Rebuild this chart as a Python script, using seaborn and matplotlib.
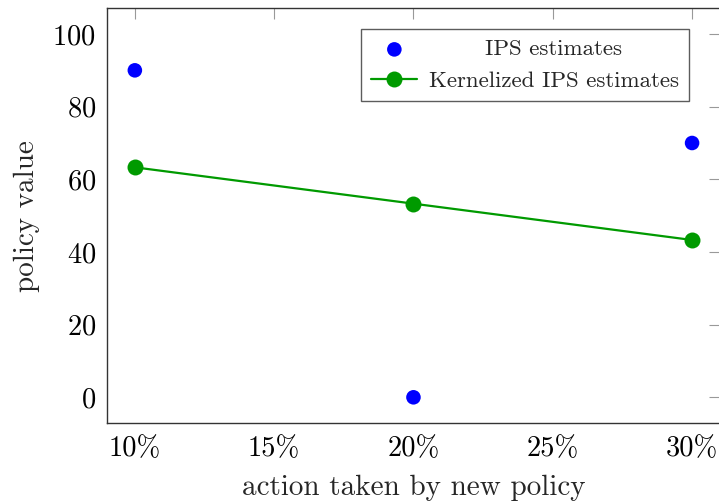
import matplotlib
matplotlib.use("Agg")
import matplotlib.pyplot as plt
import seaborn as sns
import pandas as pd
from matplotlib.ticker import PercentFormatter
from matplotlib.offsetbox import VPacker

sns.set_theme(style="white")
plt.rcParams['font.family'] = ['cmr10', 'DejaVu Serif']
plt.rcParams['axes.formatter.use_mathtext'] = True

# data
share = [10, 20, 30]                 # action taken by new policy (%)
ips = [90, 0, 70]                    # IPS estimates
kernel_ips = [63.3, 53.3, 43.3]      # Kernelized IPS estimates
x_ticks = [10, 15, 20, 25, 30]
y_ticks = [0, 20, 40, 60, 80, 100]

df = pd.DataFrame({"share": share, "ips": ips, "kernel": kernel_ips})

fig = plt.figure(figsize=(7.19, 5.01), dpi=100)
ax = fig.add_axes([0.1488, 0.1557, 0.8525, 0.8277])

sns.scatterplot(data=df, x="share", y="ips", ax=ax, color="#0000ff", s=110,
                edgecolor="none", label="IPS estimates", zorder=3)
sns.lineplot(data=df, x="share", y="kernel", ax=ax, color="#009a00",
             linewidth=1.6, marker="o", markersize=11.5, markeredgewidth=0,
             label="Kernelized IPS estimates", zorder=3)

ax.set_xlim(9, 31)
ax.set_ylim(-7.07, 107.07)
ax.set_xticks(x_ticks)
ax.set_yticks(y_ticks)
ax.xaxis.set_major_formatter(PercentFormatter(decimals=0))

ax.tick_params(direction="in", length=8, width=0.8, color="#999999",
               top=True, right=True, labelsize=20.5, labelcolor="black")
ax.tick_params(axis="x", pad=9)
ax.tick_params(axis="y", pad=8)
for sp in ax.spines.values():
    sp.set_color("#333333")
    sp.set_linewidth(1.0)

ax.set_xlabel("action taken by new policy", fontsize=21, labelpad=9)
ax.set_ylabel("policy value", fontsize=21, labelpad=9)

leg = ax.legend(loc="upper right", bbox_to_anchor=(0.9496, 0.950), fontsize=16.5,
                frameon=True, fancybox=False, edgecolor="#333333",
                borderpad=0.45, handlelength=2.0, handletextpad=0.5,
                labelspacing=0.5, borderaxespad=0)
leg.get_frame().set_linewidth(1.0)

# center the legend labels in their column, like pgfplots does
fig.canvas.draw()
rend = fig.canvas.get_renderer()
try:
    col = leg._legend_handle_box.get_children()[0]
    rows = col.get_children()
    tas = [row.get_children()[1] for row in rows]
    wmax = max(ta.get_bbox(rend).width for ta in tas)
    for row, ta in zip(rows, tas):
        row._children[1] = VPacker(children=[ta], pad=0, sep=0,
                                   width=wmax, align="center")
except Exception as e:
    print("legend centering skipped:", e)

fig.savefig("out.png", dpi=100)
